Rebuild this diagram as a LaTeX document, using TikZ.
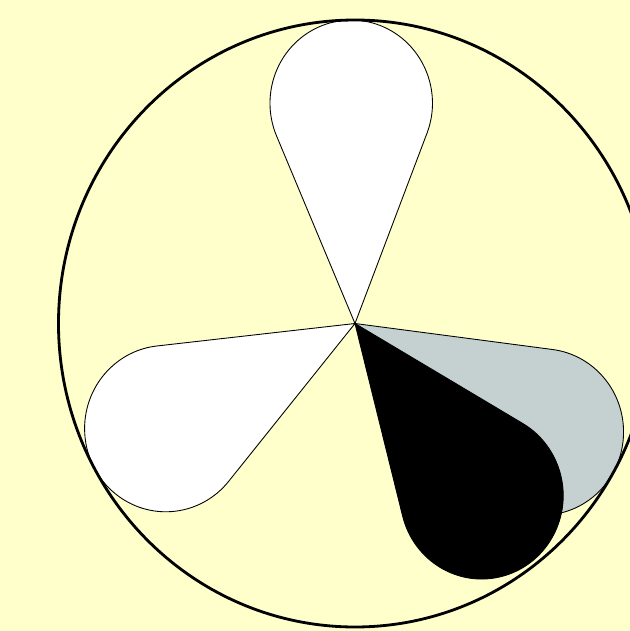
\documentclass[tikz,border=0pt]{standalone}
\usepackage{xcolor}
\usepackage{tikz}
\definecolor{bgYellow}{HTML}{FFFFCC}
\definecolor{shadowGray}{HTML}{C5D0D0}

% one blade at angle #1: tangent lines from the hub to a disc of radius #3 at distance #2
\newcommand{\blade}[4]{%
  \draw[blade,#4,rotate=#1] (0,0) -- ({-asin(#3/#2)}:{sqrt(#2*#2-#3*#3)})
    arc[start angle={-90-asin(#3/#2)}, end angle={90+asin(#3/#2)}, radius=#3] -- cycle;}

\begin{document}
\begin{tikzpicture}[xscale=5.93, yscale=6.07,
    blade/.style={draw=black, line width=0.5pt, fill=white},
    rim/.style={draw=black, line width=1.6pt}]
  \useasboundingbox (-1.1973,-1.0132) rectangle (0.9275,1.0659);
  \fill[bgYellow] (-1.1973,-1.0132) rectangle (0.9275,1.0659);
  \clip (-1.1973,-1.0132) rectangle (0.9275,1.0659);
  % ---- white blades ----
  \blade{91}{0.726}{0.274}{}
  \blade{208.5}{0.726}{0.274}{}
  % ---- previous position, then the turning blade ----
  \blade{330.5}{0.726}{0.274}{fill=shadowGray}
  \blade{307}{0.71}{0.275}{fill=black}
  % ---- outer rim ----
  \draw[rim] (0,0) circle (1);
\end{tikzpicture}
\end{document}
